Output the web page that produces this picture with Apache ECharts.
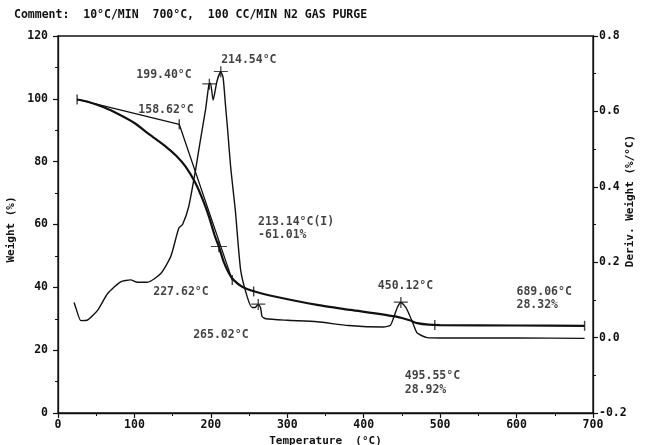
<!DOCTYPE html>
<html><head><meta charset="utf-8">
<script src="https://cdn.jsdelivr.net/npm/echarts@6.0.0/dist/echarts.min.js"></script>
<style>html,body{margin:0;padding:0;background:#fff}#c{width:645px;height:445px}</style>
</head><body><div id="c"></div>
<script>
// Weight (%) curve
const weightT = [25,40,60,80,100,120,141,155,167,180,190,197.5,205,210.6,217,223.6,230,241,258.5,285,339,383,444,460,470,485,500,600,689];
const weightV = [99.8,99.0,97.3,95.0,92.3,88.6,84.8,81.8,78.4,73.1,67.5,62.5,56.5,52.9,48,44.5,42.3,40.2,38.6,37.0,34.4,32.8,30.6,29.5,28.6,28.1,28.0,27.85,27.75];
// Onset tangent construction
const tangentT = [25,158.62,228];
const tangentV = [99.8,91.9,42.3];
// Derivative weight (%/°C)
const derivT = [21,23.5,30,39,52,65,82,95,104,117,134.5,147.5,158,163,171,180,186,193,197.5,199.5,203,208,213,216,219,222,226,232,239,247.6,254,258,262,265,267,272,300,339,380,426,435,439,444,448.6,455,459,465,470,483,500,600,689];
const derivV = [0.093,0.078,0.045,0.047,0.073,0.117,0.148,0.153,0.147,0.147,0.17,0.215,0.29,0.30,0.347,0.445,0.52,0.604,0.672,0.675,0.63,0.68,0.705,0.69,0.62,0.55,0.45,0.338,0.179,0.108,0.08,0.08,0.088,0.08,0.056,0.05,0.046,0.042,0.032,0.028,0.033,0.052,0.08,0.093,0.08,0.064,0.035,0.012,0.0,-0.001,-0.001,-0.002];
// Markers
const weightTickT = [25,158.62,228,256,493,689];
const weightTickV = [99.8,91.9,42.3,38.7,28.0,27.75];
const inflectT = [210.6];
const inflectV = [52.9];
const derivMarkT = [198,213,262,448.6];
const derivMarkV = [0.672,0.705,0.088,0.093];
// Annotations (anchor in temperature / weight units)
const annText = ['199.40°C','158.62°C','214.54°C','213.14°C(I)','-61.01%','227.62°C','265.02°C','450.12°C','689.06°C','28.32%','495.55°C','28.92%'];
const annT = [101.8,104.4,212.8,261.1,261.1,124,176.2,417.8,599.2,599.2,453,453];
const annW = [107.6,96.4,112.4,60.8,56.8,38.5,24.8,40.4,38.5,34.4,11.8,7.3];
// Axis ticks
const xTicks = [0,700,100];
const wTicks = [0,120,20];
const dTicks = [-0.2,0.8,0.2];
const commentText = 'Comment:  10°C/MIN  700°C,  100 CC/MIN N2 GAS PURGE';
const rightTitle = 'Deriv. Weight (%/°C)';

const INK = '#111111';
const FONT = 'DejaVu Sans Mono';
const txt = {fontFamily: FONT, fontWeight: 'bold', fontSize: 11.5, color: INK};
const zip = (a, b) => a.map((v, i) => [v, b[i]]);
const plusPath = 'path://M0,5h14v1.3h-14z M6.35,0h1.3v12h-1.3z';

const chart = echarts.init(document.getElementById('c'), null, {renderer: 'canvas'});
const axisCommon = {
  axisLine: {show: true, lineStyle: {color: INK, width: 1.3}},
  axisTick: {show: true, inside: false, length: 5, lineStyle: {color: INK, width: 1.2}},
  minorTick: {show: true, splitNumber: 2, length: 3, lineStyle: {color: INK, width: 1}},
  splitLine: {show: false},
  axisLabel: Object.assign({}, txt)
};
chart.setOption({
  animation: false,
  backgroundColor: '#fff',
  grid: {left: 58, right: 52, top: 36, bottom: 32, containLabel: false, outerBoundsMode: 'none',
         show: true, borderColor: INK, borderWidth: 1.3, backgroundColor: 'transparent'},
  xAxis: Object.assign({}, axisCommon, {
    type: 'value', min: xTicks[0], max: xTicks[1], interval: xTicks[2],
    name: 'Temperature  (°C)', nameLocation: 'middle', nameGap: 21,
    nameTextStyle: Object.assign({}, txt, {fontSize: 11}),
    axisLabel: Object.assign({}, txt, {margin: 6})
  }),
  yAxis: [
    Object.assign({}, axisCommon, {
      type: 'value', min: wTicks[0], max: wTicks[1], interval: wTicks[2], position: 'left',
      name: 'Weight (%)', nameLocation: 'middle', nameGap: 36, nameRotate: 90,
      nameTextStyle: Object.assign({}, txt, {fontSize: 11, padding: [0, 10, 0, 0]}),
      axisLabel: Object.assign({}, txt, {margin: 10})
    }),
    Object.assign({}, axisCommon, {
      type: 'value', min: dTicks[0], max: dTicks[1], interval: dTicks[2], position: 'right',
      axisLabel: Object.assign({}, txt, {margin: 6, formatter: v => (Math.abs(v) < 1e-9 ? 0 : v).toFixed(1)})
    })
  ],
  graphic: [{
    type: 'text', left: 14, top: 9,
    style: {text: commentText, font: 'bold 11.5px "' + FONT + '"', fill: INK}
  }, {
    type: 'text', x: 630, y: 201, rotation: Math.PI / 2,
    style: {text: rightTitle, font: 'bold 11px "' + FONT + '"', fill: INK, align: 'center', verticalAlign: 'middle'}
  }],
  series: [
    {type: 'line', name: 'Weight', yAxisIndex: 0, data: zip(weightT, weightV), smooth: 0.2, showSymbol: false,
     lineStyle: {color: INK, width: 2.2}},
    {type: 'line', name: 'Tangent', yAxisIndex: 0, data: zip(tangentT, tangentV), showSymbol: false,
     lineStyle: {color: INK, width: 1.3}},
    {type: 'line', name: 'Deriv. Weight', yAxisIndex: 1, data: zip(derivT, derivV), smooth: 0.2, showSymbol: false,
     lineStyle: {color: INK, width: 1.4}},
    {type: 'scatter', yAxisIndex: 0, data: zip(weightTickT, weightTickV), symbol: 'rect', symbolSize: [1.4, 10],
     itemStyle: {color: INK}, z: 5},
    {type: 'scatter', yAxisIndex: 0, data: zip(inflectT, inflectV), symbol: plusPath, symbolSize: [16, 11],
     itemStyle: {color: INK}, z: 5},
    {type: 'scatter', yAxisIndex: 1, data: zip(derivMarkT, derivMarkV), symbol: plusPath, symbolSize: [14, 11],
     itemStyle: {color: INK}, z: 5},
    {type: 'scatter', yAxisIndex: 0, symbolSize: 1, itemStyle: {color: 'rgba(0,0,0,0)'}, z: 6,
     data: annText.map((t, i) => ({value: [annT[i], annW[i]], name: t})),
     label: Object.assign({}, txt, {show: true, position: 'right', distance: 0, formatter: p => p.name})}
  ]
});
</script>
</body></html>
